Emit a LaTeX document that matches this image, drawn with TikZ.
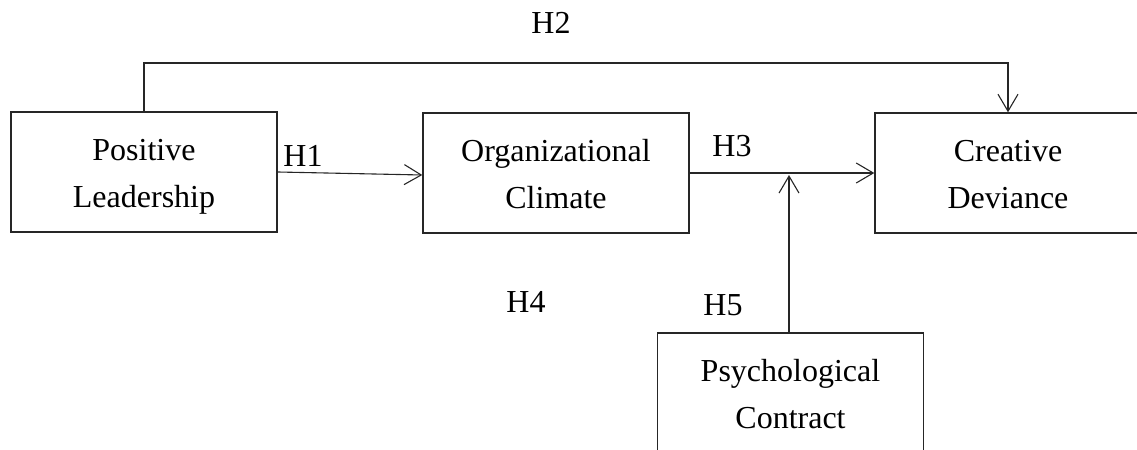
\documentclass[tikz,border=0pt]{standalone}
\usepackage{fontspec}
\setmainfont{Liberation Serif}
\usetikzlibrary{arrows.meta}
% two centred lines with fixed baselines inside a box
\newcommand{\twolines}[2]{\rule{0pt}{15.5pt}#1\\#2\rule[-4pt]{0pt}{4pt}}
\begin{document}
\begin{tikzpicture}[x=0.5pt,y=-0.5pt,
  every node/.style={font=\fontsize{16}{23.5}\selectfont, inner sep=0pt},
  concept/.style={draw=black!85, line width=0.7pt, minimum width=133pt, minimum height=60pt, align=center},
  label/.style={anchor=base},
  link/.style={draw=black!85, line width=0.55pt, -{Straight Barb[length=8.5pt,width=10pt,line width=0.55pt]}}]
  \useasboundingbox (0,0) rectangle (1137,450);
  \clip (0,0) rectangle (1137,450);

  % constructs
  \node[concept, line width=1pt] (PL) at (144,172) {\twolines{Positive}{Leadership}};
  \node[concept] (OC) at (556,173) {\twolines{Organizational}{Climate}};
  \node[concept] (CD) at (1008,173) {\twolines{Creative}{Deviance}};
  \node[concept] (PC) at (790.5,393) {\twolines{Psychological}{Contract}};

  % hypothesis paths
  \coordinate (top) at (0,63);
  \coordinate (cdin) at (1008,113);
  \draw[link] (PL.north) -- (PL.north |- top) -- (cdin |- top) -- (CD.north);
  \draw[link] (PL.east) -- ([yshift=-1pt]OC.west);
  \draw[link] (OC.east) -- (CD.west);
  \coordinate (mod) at (789,175);
  \draw[link] (PC.north -| mod) -- (mod);

  % hypothesis labels
  \node[label] (h1) at (303,166) {H1};
  \node[label] (h2) at (551,33) {H2};
  \node[label] (h3) at (732,156) {H3};
  \node[label] (h4) at (526,312) {H4};
  \node[label] (h5) at (723,315) {H5};
\end{tikzpicture}
\end{document}
